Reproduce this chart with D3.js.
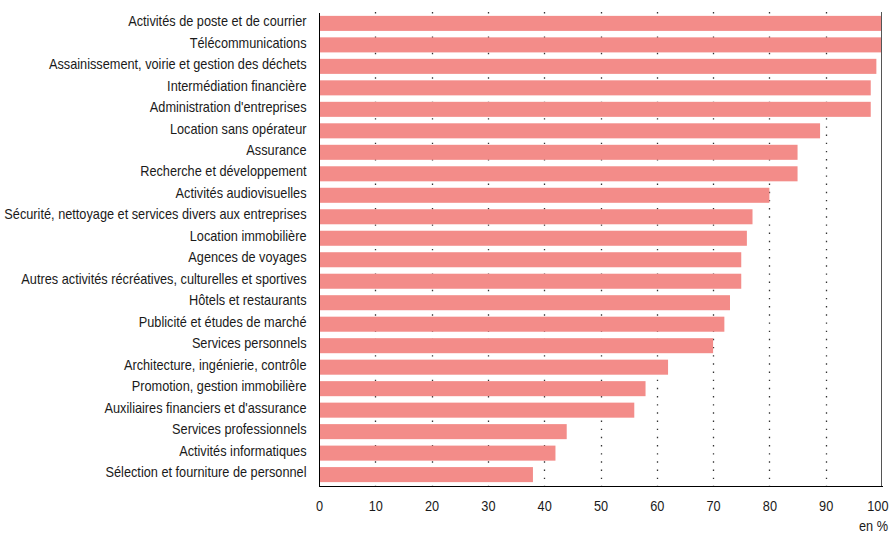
<!DOCTYPE html>
<html>
<head>
<meta charset="utf-8">
<script src="https://cdn.jsdelivr.net/npm/d3@7"></script>
<style>
  body { margin: 0; background: #fff; }
  text { font-family: 'Liberation Sans', Arial, Helvetica, sans-serif; fill: #1a1a1a; }
</style>
</head>
<body>
<div id="chart"></div>
<script>
const WIDTH  = 889;
const HEIGHT = 533;
const PLOT = { left: 319, right: 882, top: 12, bottom: 486 };
const SQUEEZE = 0.91;   // text in the source is slightly condensed
const FONT = 14;

const COLORS = {
  bar:  '#f38c89',
  axis: '#000',
  grid: '#333',
  frame:'#555'
};

// Secteurs, du haut vers le bas
const sectors = [
  'Activités de poste et de courrier',
  'Télécommunications',
  'Assainissement, voirie et gestion des déchets',
  'Intermédiation financière',
  "Administration d'entreprises",
  'Location sans opérateur',
  'Assurance',
  'Recherche et développement',
  'Activités audiovisuelles',
  'Sécurité, nettoyage et services divers aux entreprises',
  'Location immobilière',
  'Agences de voyages',
  'Autres activités récréatives, culturelles et sportives',
  'Hôtels et restaurants',
  'Publicité et études de marché',
  'Services personnels',
  'Architecture, ingénierie, contrôle',
  'Promotion, gestion immobilière',
  "Auxiliaires financiers et d'assurance",
  'Services professionnels',
  'Activités informatiques',
  'Sélection et fourniture de personnel'
];
const shares = [100, 100, 99, 98, 98, 89, 85, 85, 80, 77, 76, 75, 75, 73, 72, 70, 62, 58, 56, 44, 42, 38];
const xTicks = [0, 10, 20, 30, 40, 50, 60, 70, 80, 90, 100];
const gridTicks = [10, 20, 30, 40, 50, 60, 70, 80, 90];
const unitLabel = 'en %';

const data = sectors.map((s, i) => ({ name: s, value: shares[i] }));

var x = d3.scaleLinear()
  .domain([0, 100])
  .range([PLOT.left, PLOT.right]);
var y = d3.scaleBand()
  .domain(sectors)
  .range([PLOT.top, PLOT.bottom])
  .paddingInner(0.3)
  .paddingOuter(0.18);

var svg = d3.select('#chart').append('svg')
  .attr('width', WIDTH)
  .attr('height', HEIGHT);

// Dotted grid
svg.append('g')
  .selectAll('line')
    .data(gridTicks)
  .enter().append('line')
    .attr('x1', d => Math.round(x(d)) + 0.5)
    .attr('x2', d => Math.round(x(d)) + 0.5)
    .attr('y1', PLOT.top)
    .attr('y2', PLOT.bottom)
    .style('stroke', COLORS.grid)
    .style('stroke-width', 1.3)
    .style('stroke-dasharray', '1.4,6.77');

// Bars
svg.append('g')
  .selectAll('rect')
    .data(data)
  .enter().append('rect')
    .attr('x', x(0))
    .attr('y', d => y(d.name))
    .attr('width', d => x(d.value) - x(0))
    .attr('height', y.bandwidth())
    .style('fill', COLORS.bar);

// Right frame line
svg.append('line')
  .attr('x1', x(100) - 0.5)
  .attr('x2', x(100) - 0.5)
  .attr('y1', PLOT.top)
  .attr('y2', PLOT.bottom)
  .style('stroke', COLORS.frame)
  .style('stroke-width', 1);

// Left axis (sector names)
var yAxis = svg.append('g')
  .attr('transform', `translate(${PLOT.left - 0.5},0)`)
  .call(d3.axisLeft(y).tickSize(0).tickSizeOuter(0).tickPadding(0));

yAxis.select('.domain')
  .style('stroke', COLORS.axis)
  .attr('shape-rendering', 'crispEdges');

yAxis.selectAll('text')
  .attr('font-size', FONT)
  .attr('x', -12 / SQUEEZE)
  .attr('dy', '-1')
  .attr('dominant-baseline', 'middle')
  .attr('transform', `scale(${SQUEEZE},1)`)
  .style('font-family', "'Liberation Sans', Arial, Helvetica, sans-serif")
  .style('fill', '#1a1a1a');

// Bottom axis
var xAxis = svg.append('g')
  .attr('transform', `translate(0,${PLOT.bottom - 0.5})`)
  .call(d3.axisBottom(x).tickValues(xTicks).tickSize(0).tickSizeOuter(0).tickFormat(d3.format('d')));

xAxis.select('.domain')
  .style('stroke', COLORS.axis)
  .attr('shape-rendering', 'crispEdges');

xAxis.selectAll('text')
  .attr('font-size', FONT)
  .attr('y', 26)
  .attr('dy', 0)
  .attr('transform', `scale(${SQUEEZE},1)`)
  .style('font-family', "'Liberation Sans', Arial, Helvetica, sans-serif")
  .style('fill', '#1a1a1a');

// last label would run off the right edge: keep it inside
xAxis.selectAll('.tick text')
  .filter(d => d === 100)
  .attr('text-anchor', 'end')
  .attr('x', (WIDTH - 1 - x(100)) / SQUEEZE);

// Unit
svg.append('text')
  .attr('font-size', FONT)
  .attr('text-anchor', 'end')
  .attr('transform', `translate(${WIDTH - 1},531) scale(${SQUEEZE},1)`)
  .text(unitLabel);
</script>
</body>
</html>
